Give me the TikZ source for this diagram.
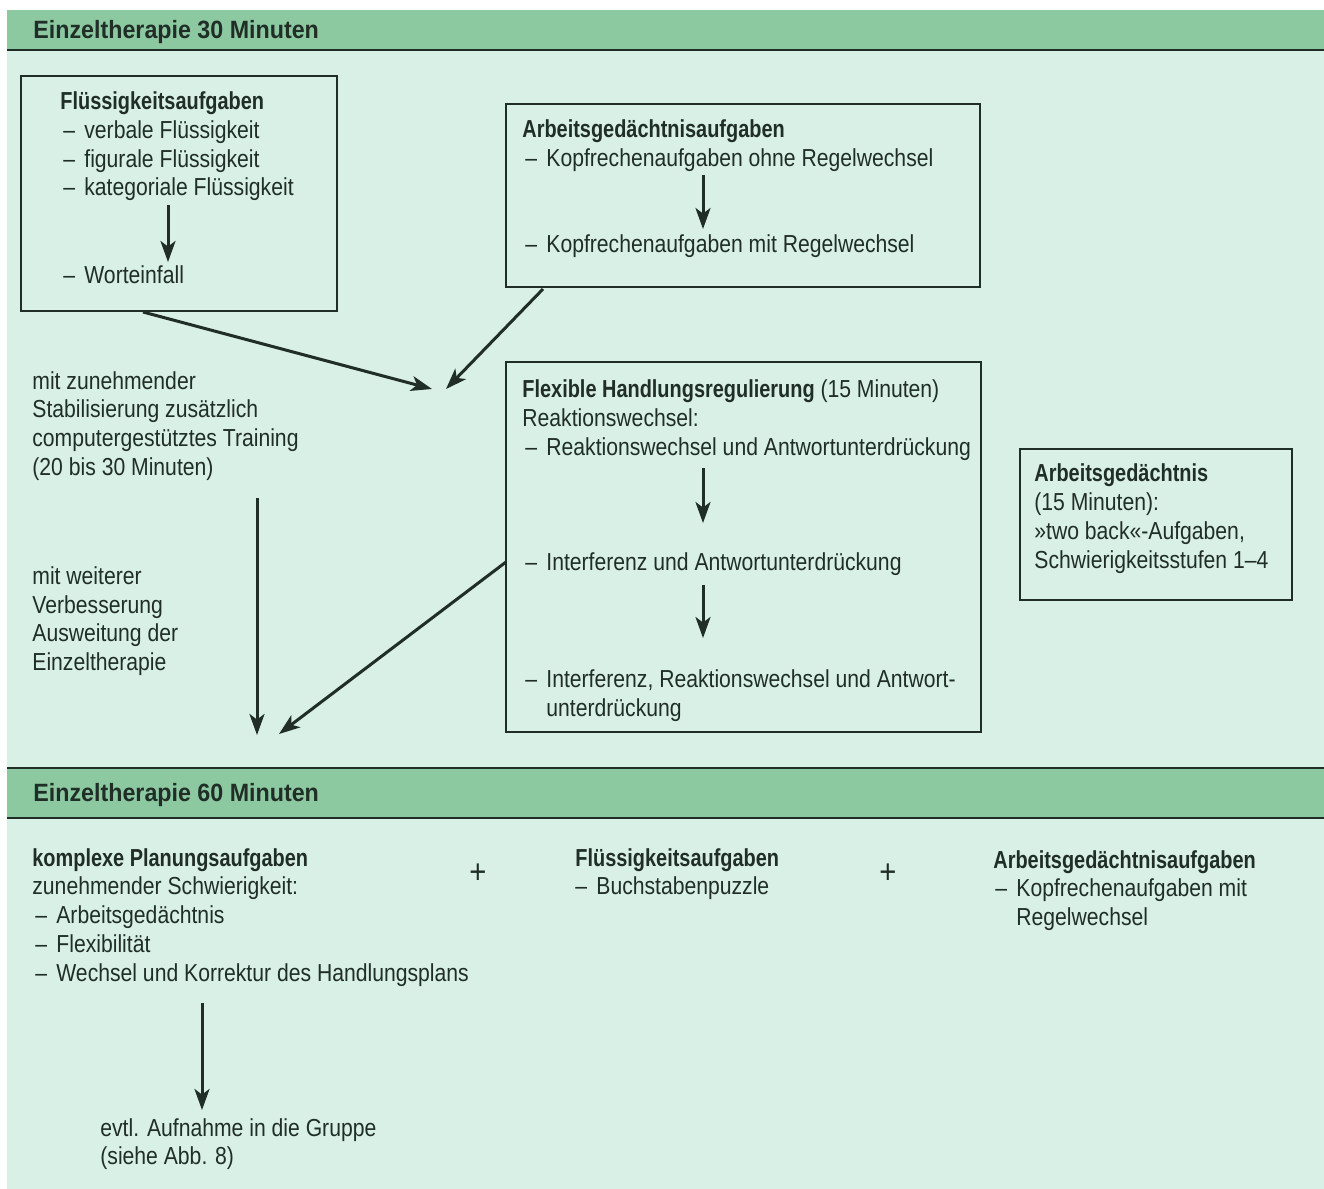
\documentclass[tikz,border=0pt]{standalone}
\usepackage{fontspec}
\setmainfont{Liberation Sans}[UprightFeatures={FakeStretch=0.86}, BoldFeatures={FakeStretch=0.81}]
\newfontfamily\headfont{Liberation Sans}[FakeStretch=0.93]
\usetikzlibrary{arrows.meta,fit}
\definecolor{mint}{RGB}{216,240,229}
\definecolor{band}{RGB}{140,200,160}
\definecolor{ink}{RGB}{32,46,39}
\newcommand\dsh{\makebox[10.5pt][l]{–}}
\begin{document}
\begin{tikzpicture}[x=0.5pt,y=-0.5pt,
  txt/.style={anchor=base west, inner sep=0pt, text=ink, font=\fontsize{12.3}{14.5}\selectfont},
  bt/.style={txt, font=\fontsize{12.3}{14.5}\selectfont\bfseries},
  head/.style={txt, font=\fontsize{12.5}{14.5}\selectfont\headfont\bfseries},
  box/.style={draw=ink, line width=1pt, inner sep=0pt, fill=none},
  arr/.style={draw=ink, line width=1.5pt, -{Stealth[length=10.5pt,width=7.5pt,inset=2.8pt]}},
  plus/.style={text=ink, inner sep=0pt, font=\fontsize{17}{17}\selectfont},
  rule/.style={draw=ink, line width=1pt}]
\useasboundingbox (0,0) rectangle (1324,1189);
\fill[white] (0,0) rectangle (1324,1189);
\fill[mint] (7,10) rectangle (1324,1189);
\fill[band] (7,10) rectangle (1324,50);
\fill[band] (7,768) rectangle (1324,818);
\draw[rule] (7,50) -- (1324,50);
\draw[rule] (7,768) -- (1324,768);
\draw[rule] (7,818) -- (1324,818);

% headers
\node[head] (h1) at (33,38) {Einzeltherapie 30 Minuten};
\node[head] (h2) at (33,801) {Einzeltherapie 60 Minuten};

% box 1
\node[box, fit={(21,76) (337,311)}] (b1) {};
\node[bt] (b1t) at (60,109) {Flüssigkeitsaufgaben};
\node[txt] (b1a) at (63,138) {\dsh verbale Flüssigkeit};
\node[txt] (b1b) at (63,167) {\dsh figurale Flüssigkeit};
\node[txt] (b1c) at (63,195) {\dsh kategoriale Flüssigkeit};
\node[txt] (b1d) at (63,283) {\dsh Worteinfall};
\coordinate (a1s) at (168,205); \coordinate (a1e) at (168,262);
\draw[arr] (a1s) -- (a1e);

% box 2
\node[box, fit={(506,104) (980,287)}] (b2) {};
\node[bt] (b2t) at (522,137) {Arbeitsgedächtnisaufgaben};
\node[txt] (b2a) at (525,166) {\dsh Kopfrechenaufgaben ohne Regelwechsel};
\node[txt] (b2b) at (525,252) {\dsh Kopfrechenaufgaben mit Regelwechsel};
\coordinate (a2s) at (703,175); \coordinate (a2e) at (703,229);
\draw[arr] (a2s) -- (a2e);

% converging arrows
\coordinate (c1s) at (143,312); \coordinate (c1e) at (432,389);
\coordinate (c2s) at (543,289); \coordinate (c2e) at (446,389);
\draw[arr] (c1s) -- (c1e);
\draw[arr] (c2s) -- (c2e);

% box 3
\node[box, fit={(506,362) (981,732)}] (b3) {};
\node[txt] (b3t) at (522,397) {\textbf{Flexible Handlungsregulierung} (15 Minuten)};
\node[txt] (b3s) at (522,426) {Reaktionswechsel:};
\node[txt] (b3a) at (525,455) {\dsh Reaktionswechsel und Antwortunterdrückung};
\node[txt] (b3b) at (525,570) {\dsh Interferenz und Antwortunterdrückung};
\node[txt] (b3c) at (525,687) {\dsh Interferenz, Reaktionswechsel und Antwort-};
\node[txt] (b3d) at (546,716) {unterdrückung};
\coordinate (a3s) at (703,468); \coordinate (a3e) at (703,523);
\coordinate (a4s) at (703,585); \coordinate (a4e) at (703,638);
\draw[arr] (a3s) -- (a3e);
\draw[arr] (a4s) -- (a4e);

% left texts
\node[txt] (l1) at (32,389) {mit zunehmender};
\node[txt] (l2) at (32,417) {Stabilisierung zusätzlich};
\node[txt] (l3) at (32,446) {computergestütztes Training};
\node[txt] (l4) at (32,475) {(20 bis 30 Minuten)};
\node[txt] (m1) at (32,584) {mit weiterer};
\node[txt] (m2) at (32,613) {Verbesserung};
\node[txt] (m3) at (32,641) {Ausweitung der};
\node[txt] (m4) at (32,670) {Einzeltherapie};
\coordinate (v1s) at (257,498); \coordinate (v1e) at (257,735);
\coordinate (v2s) at (506,562); \coordinate (v2e) at (279,734);
\draw[arr] (v1s) -- (v1e);
\draw[arr] (v2s) -- (v2e);

% box 4
\node[box, fit={(1020,449) (1292,600)}] (b4) {};
\node[bt] (b4t) at (1034,481) {Arbeitsgedächtnis};
\node[txt] (b4a) at (1034,510) {(15 Minuten):};
\node[txt] (b4b) at (1034,539) {»two back«-Aufgaben,};
\node[txt] (b4c) at (1034,568) {Schwierigkeitsstufen 1–4};

% bottom section
\node[bt] (p1) at (32,866) {komplexe Planungsaufgaben};
\node[txt] (p2) at (32,894) {zunehmender Schwierigkeit:};
\node[txt] (p3) at (35,923) {\dsh Arbeitsgedächtnis};
\node[txt] (p4) at (35,952) {\dsh Flexibilität};
\node[txt] (p5) at (35,981) {\dsh Wechsel und Korrektur des Handlungsplans};
\coordinate (a5s) at (202,1003); \coordinate (a5e) at (202,1110);
\draw[arr] (a5s) -- (a5e);
\node[txt] (g1) at (100,1136) {evtl. Aufnahme in die Gruppe};
\node[txt] (g2) at (100,1164) {(siehe Abb. 8)};

\node[plus] (plus1) at (478,874) {+};
\node[plus] (plus2) at (888,874) {+};

\node[bt] (f1) at (575,866) {Flüssigkeitsaufgaben};
\node[txt] (f2) at (575,894) {\dsh Buchstabenpuzzle};

\node[bt] (k1) at (993,868) {Arbeitsgedächtnisaufgaben};
\node[txt] (k2) at (995,896) {\dsh Kopfrechenaufgaben mit};
\node[txt] (k3) at (1016,925) {Regelwechsel};
\end{tikzpicture}
\end{document}
